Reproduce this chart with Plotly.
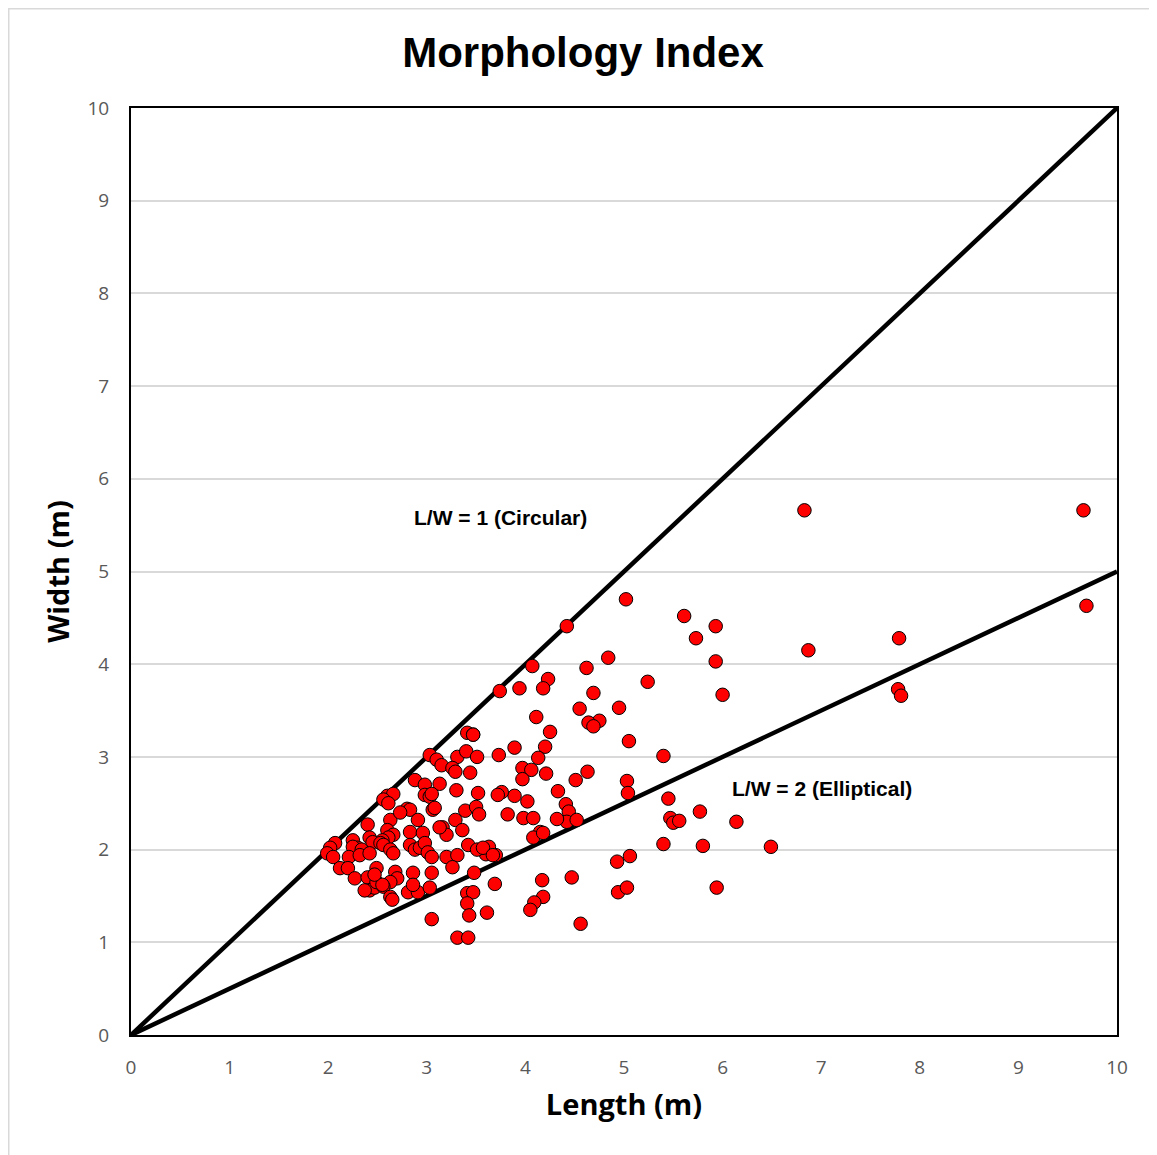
import plotly.graph_objects as go

# Length (m) and Width (m) of each feature
length_m = [
    6.83, 9.66, 9.69, 5.02, 4.42, 5.61, 5.93, 5.73, 5.93, 6.00, 6.87, 7.79, 7.78, 7.81,
    5.24, 4.84, 4.62, 4.07, 4.23, 4.18, 3.94, 3.74, 4.69, 4.55, 4.95, 4.75, 4.64, 4.69,
    4.11, 4.25, 5.05, 5.40, 3.89, 4.20, 4.13, 3.97, 4.06, 3.97, 4.21, 4.51, 4.63, 4.33,
    5.03, 5.04, 3.89, 4.02, 5.45, 5.77, 5.47, 5.50, 5.56, 6.14, 5.40, 5.80, 6.49, 4.93,
    5.06, 4.94, 5.03, 5.94, 4.41, 4.44, 4.42, 4.52, 4.32, 3.82, 3.98, 4.08, 4.15, 4.08,
    4.18, 4.47, 4.17, 4.18, 4.09, 4.05, 4.56, 3.60, 3.70, 3.63,
    3.41, 3.47, 3.03, 3.10, 3.15, 3.31, 3.40, 3.51, 3.73, 3.26, 3.29, 3.44, 2.88, 2.98,
    3.13, 3.30, 3.52, 2.60, 2.66, 2.56, 2.98, 3.03, 3.05, 3.76, 3.72, 2.61, 2.80, 2.83,
    3.06, 3.39, 3.50, 3.53, 2.63, 2.40, 2.91, 3.16, 3.20, 3.29, 3.36, 2.60, 2.66, 2.61,
    2.55, 2.83, 2.96, 2.42, 2.45, 2.53, 2.56, 2.25, 2.30, 2.25, 2.34, 2.07, 2.02, 1.99,
    2.05, 2.21, 2.32, 2.42, 2.63, 2.66, 2.83, 2.88, 2.93, 2.98, 3.01, 3.05, 3.20, 3.31,
    3.42, 3.51, 3.57, 3.67, 3.26, 2.12, 2.20, 2.27, 2.40, 2.49, 2.68, 2.70, 2.63, 2.86,
    3.05, 2.42, 2.47, 2.56, 2.63, 2.65, 2.81, 2.91, 3.03, 3.48, 3.69, 3.41, 3.47, 3.41,
    3.43, 3.61, 3.05, 3.31, 3.42, 2.37, 2.49, 2.55, 2.86, 3.47, 2.73, 2.47, 3.13, 3.08,
]
width_m = [
    5.66, 5.66, 4.63, 4.70, 4.41, 4.52, 4.41, 4.28, 4.03, 3.67, 4.15, 4.28, 3.73, 3.66,
    3.81, 4.07, 3.96, 3.98, 3.84, 3.74, 3.74, 3.71, 3.69, 3.52, 3.53, 3.39, 3.37, 3.33,
    3.43, 3.27, 3.17, 3.01, 3.10, 3.11, 2.99, 2.88, 2.86, 2.76, 2.82, 2.75, 2.84, 2.63,
    2.74, 2.61, 2.58, 2.52, 2.55, 2.41, 2.34, 2.29, 2.31, 2.30, 2.06, 2.04, 2.03, 1.87,
    1.93, 1.54, 1.59, 1.59, 2.49, 2.41, 2.30, 2.32, 2.33, 2.38, 2.34, 2.34, 2.19, 2.13,
    2.18, 1.70, 1.67, 1.49, 1.43, 1.35, 1.20, 1.95, 1.94, 2.03,
    3.26, 3.24, 3.02, 2.97, 2.91, 3.00, 3.06, 3.00, 3.02, 2.88, 2.84, 2.83, 2.75, 2.70,
    2.71, 2.64, 2.61, 2.58, 2.60, 2.54, 2.59, 2.57, 2.60, 2.62, 2.59, 2.50, 2.44, 2.43,
    2.43, 2.42, 2.46, 2.38, 2.32, 2.27, 2.32, 2.24, 2.16, 2.32, 2.21, 2.21, 2.16, 2.13,
    2.10, 2.19, 2.18, 2.13, 2.08, 2.07, 2.05, 2.10, 2.02, 2.03, 2.00, 2.07, 2.02, 1.96,
    1.92, 1.92, 1.94, 1.96, 2.00, 1.96, 2.05, 2.00, 2.02, 2.07, 1.97, 1.92, 1.92, 1.94,
    2.05, 2.00, 2.02, 1.94, 1.81, 1.80, 1.80, 1.69, 1.70, 1.80, 1.76, 1.69, 1.65, 1.75,
    1.75, 1.56, 1.59, 1.60, 1.49, 1.46, 1.54, 1.54, 1.59, 1.75, 1.63, 1.53, 1.54, 1.42,
    1.29, 1.32, 1.25, 1.05, 1.05, 1.56, 1.65, 1.62, 1.62, 3.24, 2.40, 1.73, 2.24, 2.45,
]

ratio_lines = [1, 2]
ratio_labels = ["L/W = 1 (Circular)", "L/W = 2 (Elliptical)"]
label_x = [3.75, 7.01]
label_y = [5.58, 2.66]
axis_max = 10
ticks = list(range(0, 11))

# page body has an 8px margin; figure is sized to compensate
W, H = 1149, 1147
L, R, T, B = 123, 40, 100, 120
PW, PH = W - L - R, H - T - B

fig = go.Figure()

for r in ratio_lines:
    fig.add_trace(go.Scatter(
        x=[0, axis_max], y=[0, axis_max / r], mode="lines",
        line=dict(color="black", width=4.5), hoverinfo="skip", showlegend=False,
    ))

fig.add_trace(go.Scatter(
    x=length_m, y=width_m, mode="markers",
    marker=dict(size=13.5, color="#ff0000", line=dict(color="black", width=1)),
    showlegend=False,
))

for t, lx, ly in zip(ratio_labels, label_x, label_y):
    fig.add_annotation(x=lx, y=ly, text="<b>" + t + "</b>", showarrow=False,
                       font=dict(family="Liberation Sans, Arial", size=21, color="black"))

tickfont = dict(family="Open Sans, Noto Sans", size=19, color="#595959")
fig.update_layout(
    width=W, height=H,
    margin=dict(l=L, r=R, t=T, b=B),
    paper_bgcolor="white", plot_bgcolor="white",
    title=dict(text="<b>Morphology Index</b>", x=575 / W, xanchor="center",
               y=1 - 44 / H, yanchor="middle",
               font=dict(family="Liberation Sans, Arial", size=42, color="black")),
    xaxis=dict(range=[0, axis_max], tickvals=ticks, showgrid=False, zeroline=False,
               showline=True, linecolor="black", linewidth=2, mirror=True,
               ticks="", ticklabelstandoff=14, tickfont=tickfont,
               title=dict(text="<b>Length (m)</b>", standoff=16,
                          font=dict(family="Open Sans, Noto Sans", size=29, color="black"))),
    yaxis=dict(range=[0, axis_max], tickvals=ticks, showgrid=True, gridcolor="#d9d9d9",
               gridwidth=1.5, zeroline=False,
               showline=True, linecolor="black", linewidth=2, mirror=True,
               ticks="", ticklabelstandoff=16, tickfont=tickfont,
               title=dict(text="<b>Width (m)</b>", standoff=9,
                          font=dict(family="Open Sans, Noto Sans", size=29, color="black"))),
)

fig.add_shape(type="rect", xref="paper", yref="paper",
              x0=(0.75 - L) / PW, x1=(W + 20 - L) / PW,
              y0=-(B + 20) / PH, y1=(PH + T - 0.75) / PH,
              line=dict(color="#d9d9d9", width=1.5), layer="below")

fig.write_html("out.html")
